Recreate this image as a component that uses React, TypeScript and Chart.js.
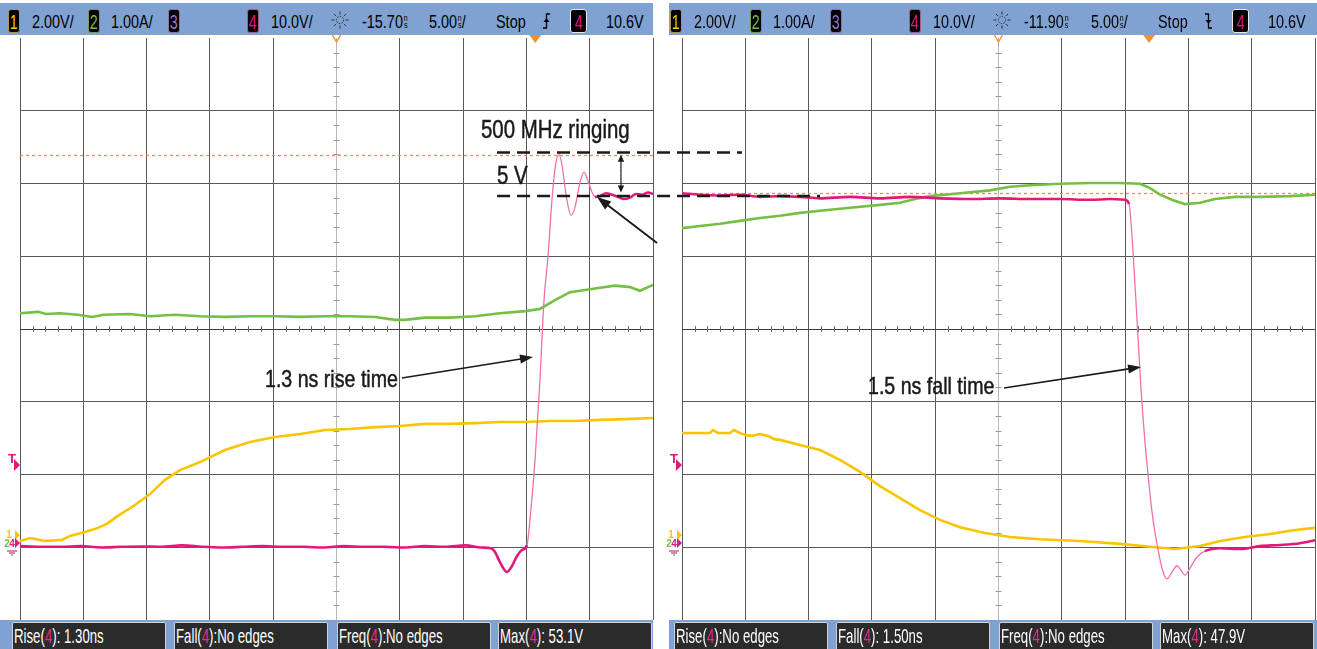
import React, { useEffect, useRef } from "react";
import { Chart, registerables } from "chart.js";

Chart.register(...registerables);

const W = 1317;
const H = 649;

// ---------- scope settings ----------
const CH1_V_PER_DIV = 2;
const CH2_A_PER_DIV = 1;
const CH4_V_PER_DIV = 10;
const NS_PER_DIV = 5;
const GROUND_DIV = -2.914; // ground level relative to screen centre (divisions)
const TRIG_LEVEL_V = 10.6;
const DELAY_NS = [-15.7, -11.9];
const MAX_V = [53.1, 47.9];
const EDGE_WINDOW_NS = [[-0.7, 4.75], [-1.7, 4.5]];

// ---------- left capture: rising edge ----------
const L_CH4_T = [-40.7, -39.1, -37.5, -35.9, -34.3, -32.7, -31.1, -29.5, -27.9, -26.3, -24.7, -23.1, -21.5, -19.9, -18.3, -16.7, -15.1, -13.5, -11.9, -10.3, -8.7, -7.1, -5.5, -4.3,
  -3.5, -3.18, -2.79, -2.23, -1.84, -1.44, -1.05, -0.65, -0.42, -0.02, 0.37, 0.69, 1.01, 1.32, 1.64, 1.87, 2.11, 2.43, 2.82, 3.14, 3.53, 3.85, 4.24, 4.72, 5.11, 5.59, 6.06, 6.54, 7.01, 7.48, 7.96, 8.43, 8.91, 9.3];
const L_CH4_V = [-0.7, -0.8, -0.8, -0.7, -0.9, -0.8, -0.75, -0.8, -0.6, -0.8, -0.9, -0.8, -0.7, -0.8, -0.8, -0.9, -0.7, -0.8, -0.8, -0.9, -0.7, -0.8, -0.6, -0.9,
  -1.0, -1.5, -2.9, -4.26, -3.44, -2.06, -1.24, -0.55, 2.9, 11.1, 22.1, 33.1, 39.2, 46.9, 52.1, 53.1, 51.7, 47.6, 44.8, 45.9, 49.3, 50.7, 49.1, 47.3, 47.4, 47.8, 47.6, 47.3, 47.0, 47.2, 47.7, 47.6, 47.9, 47.7];

const L_CH1_T = [-40.7, -39.91, -38.73, -37.38, -36.75, -35.57, -34.54, -33.75, -32.96, -31.62, -30.43, -29.25, -28.06, -26.48, -24.51, -22.53, -20.56, -18.58, -16.61, -14.63, -12.66, -10.68, -8.71, -6.73, -4.76, -2.79, -0.81, 1.16, 3.14, 5.11, 7.09, 9.3];
const L_CH1_V = [0.0, 0.08, 0.0, 0.03, 0.14, 0.25, 0.36, 0.49, 0.69, 0.99, 1.29, 1.68, 1.95, 2.17, 2.5, 2.72, 2.86, 2.94, 3.05, 3.08, 3.13, 3.16, 3.22, 3.22, 3.24, 3.27, 3.27, 3.3, 3.3, 3.33, 3.35, 3.38];

const L_CH2_T = [-40.7, -39.28, -38.65, -37.54, -36.12, -35.01, -34.07, -32.01, -30.43, -28.46, -26.48, -24.51, -22.53, -20.56, -18.58, -16.61, -14.63, -12.66, -11.08, -10.29, -8.71, -6.73, -4.76, -2.79, -0.81, 0.37, 1.56, 2.74, 3.93, 5.11, 6.3, 7.48, 8.27, 9.3];
const L_CH2_A = [3.13, 3.15, 3.12, 3.13, 3.11, 3.08, 3.11, 3.12, 3.09, 3.11, 3.09, 3.08, 3.09, 3.09, 3.08, 3.09, 3.09, 3.08, 3.04, 3.04, 3.07, 3.07, 3.09, 3.13, 3.16, 3.19, 3.31, 3.42, 3.45, 3.48, 3.51, 3.49, 3.44, 3.52];

// ---------- right capture: falling edge ----------
const R_CH4_T = [-36.9, -35.48, -33.9, -32.32, -30.74, -29.16, -27.58, -26.0, -23.63, -21.26, -18.89, -16.52, -14.15, -11.78, -9.41, -7.04, -4.67, -3.09, -1.91, -1.59, -1.28, -0.96, -0.64, -0.33, 0.0, 0.3, 0.7, 1.09, 1.41, 1.8, 2.2, 2.51, 2.83, 3.23, 3.78, 4.41, 5.6, 7.18, 8.76, 10.34, 11.92, 13.1];
const R_CH4_V = [47.8, 47.6, 47.5, 47.6, 47.3, 47.4, 47.3, 47.1, 47.3, 47.1, 47.3, 47.1, 47.0, 47.1, 47.0, 47.0, 46.9, 47.0, 46.9, 46.3, 40.0, 30.4, 20.8, 13.6, 7.6, 3.0, -1.2, -4.2, -5.2, -4.3, -3.4, -4.0, -4.7, -3.7, -2.2, -1.4, -1.0, -1.1, -0.7, -0.55, -0.3, 0.1];

const R_CH1_T = [-36.9, -34.69, -34.45, -34.06, -33.11, -32.79, -32.32, -31.84, -31.37, -30.74, -30.11, -29.63, -29.16, -27.58, -26.0, -24.42, -22.84, -21.26, -19.68, -18.1, -16.52, -14.94, -12.97, -10.99, -8.62, -5.46, -2.3, 0.07, 2.04, 4.02, 5.6, 7.57, 9.55, 11.52, 13.1];
const R_CH1_V = [2.97, 2.97, 3.05, 2.97, 2.97, 3.05, 2.97, 2.91, 2.89, 2.94, 2.89, 2.8, 2.78, 2.64, 2.5, 2.23, 1.9, 1.51, 1.18, 0.85, 0.58, 0.38, 0.22, 0.11, 0.05, 0.0, -0.08, -0.16, -0.22, -0.14, 0.0, 0.11, 0.19, 0.3, 0.36];

const R_CH2_T = [-36.9, -35.48, -33.9, -32.32, -30.74, -29.16, -27.58, -26.0, -23.63, -21.26, -19.68, -18.5, -17.31, -14.94, -12.57, -10.99, -9.41, -7.04, -4.67, -2.3, -0.72, 0.07, 0.86, 1.8, 2.83, 4.02, 5.2, 6.78, 8.76, 11.13, 13.1];
const R_CH2_A = [4.3, 4.33, 4.36, 4.4, 4.44, 4.47, 4.51, 4.54, 4.58, 4.62, 4.65, 4.7, 4.74, 4.78, 4.82, 4.87, 4.89, 4.91, 4.92, 4.92, 4.91, 4.85, 4.76, 4.69, 4.63, 4.65, 4.7, 4.73, 4.73, 4.74, 4.76];

// ---------- annotations (ns, ch4 volts) ----------
const RING_TEXT = "500 MHz ringing";
const RING_TEXT_AT = [-4.29, 55.4];
const STEP_TEXT = "5 V";
const STEP_TEXT_AT = [-3.02, 49.07];
const RING_TOP_LINE = [-3.02, 16.33, 53.4];
const RING_BASE_LINE = [-3.02, 22.49, 47.42];
const STEP_ARROW = [6.77, 53.1, 47.9];
const RING_ARROW = [9.62, 40.96, 4.88, 47.29];
const RISE_TEXT = "1.3 ns rise time";
const RISE_TEXT_AT = [-21.35, 21.17];
const RISE_ARROW = [-10.53, 22.41, -0.18, 25.29];
const FALL_TEXT = "1.5 ns fall time";
const FALL_TEXT_AT = [-22.21, 20.21];
const FALL_ARROW = [-11.47, 21.03, -0.64, 23.92];

// ---------- header / measurement texts ----------
const HDR_CH1 = "2.00V/";
const HDR_CH2 = "1.00A/";
const HDR_CH4 = "10.0V/";
const HDR_DELAY = ["-15.70", "-11.90"];
const HDR_TIMEBASE = "5.00";
const HDR_RUN = "Stop";
const HDR_TRIG = "10.6V";
const MEAS_NAMES = ["Rise", "Fall", "Freq", "Max"];
const MEAS_VALUES = [
  [" 1.30ns", "No edges", "No edges", " 53.1V"],
  ["No edges", " 1.50ns", "No edges", " 47.9V"],
];

// ---------- layout ----------
const PANEL_LEFT = [20, 682];
const PANEL_RIGHT = [653, 1315];
const PLOT_TOP = 38;
const PLOT_BOTTOM = 620;
const PANEL_OFFSET = [0, 662];
const BAR_X = [[0, 653], [669, 1317]];

const YELLOW = "#f8c500";
const GREEN = "#74bf44";
const PINK = "#e5177b";
const PINK_THIN = "#f070ad";
const ORANGE = "#f39030";
const BLUE = "#7fa2d3";
const SANS = "'Liberation Sans', Arial, sans-serif";

function pts(t: number[], v: number[]) {
  return t.map((x, i) => ({ x, y: v[i] }));
}

function drawArrow(ctx: CanvasRenderingContext2D, x1: number, y1: number, x2: number, y2: number, lw: number, head: number, hw: number) {
  const a = Math.atan2(y2 - y1, x2 - x1);
  const c = Math.cos(a), s = Math.sin(a);
  ctx.lineWidth = lw;
  ctx.setLineDash([]);
  ctx.beginPath();
  ctx.moveTo(x1, y1);
  ctx.lineTo(x2 - c * head * 0.7, y2 - s * head * 0.7);
  ctx.stroke();
  ctx.beginPath();
  ctx.moveTo(x2, y2);
  ctx.lineTo(x2 - c * head - s * hw, y2 - s * head + c * hw);
  ctx.lineTo(x2 - c * head + s * hw, y2 - s * head - c * hw);
  ctx.closePath();
  ctx.fill();
}

function narrowText(ctx: CanvasRenderingContext2D, s: string, x: number, y: number, size: number, sx: number) {
  ctx.save();
  ctx.translate(x, y);
  ctx.scale(sx, 1);
  ctx.font = `${size}px ${SANS}`;
  ctx.textAlign = "left";
  ctx.textBaseline = "alphabetic";
  ctx.lineWidth = 0.5;
  ctx.fillText(s, 0, 0);
  ctx.strokeText(s, 0, 0);
  ctx.restore();
}

function decorPlugin(p: number) {
  return {
    id: "scopeDecor" + p,
    beforeDatasetsDraw(chart: any) {
      const ctx: CanvasRenderingContext2D = chart.ctx;
      const { left, right, top, bottom } = chart.chartArea;
      const xs = chart.scales.x;
      const y4 = chart.scales.y4;
      ctx.save();
      // minor ticks on centre lines
      const cx = xs.getPixelForValue(DELAY_NS[p]);
      const cy = y4.getPixelForValue(-GROUND_DIV * CH4_V_PER_DIV);
      ctx.lineWidth = 1;
      ctx.strokeStyle = "#6a6a6a";
      const dxm = (right - left) / 50;
      for (let k = 1; k < 50; k++) {
        if (k % 5 === 0) continue;
        const x = Math.round(left + k * dxm) + 0.5;
        ctx.beginPath();
        ctx.moveTo(x, cy - 3);
        ctx.lineTo(x, cy + 3);
        ctx.stroke();
      }
      ctx.strokeStyle = "#9a9a9a";
      const dym = (bottom - top) / 40;
      for (let k = 1; k < 40; k++) {
        if (k % 5 === 0) continue;
        const y = Math.round(top + k * dym) + 0.5;
        ctx.beginPath();
        ctx.moveTo(cx - 3, y);
        ctx.lineTo(cx + 3, y);
        ctx.stroke();
      }
      // max measurement marker
      const ym = Math.round(y4.getPixelForValue(MAX_V[p])) + 0.5;
      ctx.strokeStyle = ORANGE;
      ctx.lineWidth = 1.3;
      ctx.setLineDash([3, 3]);
      ctx.beginPath();
      ctx.moveTo(left, ym);
      ctx.lineTo(right, ym);
      ctx.stroke();
      ctx.restore();
    },
    afterDraw(chart: any) {
      const ctx: CanvasRenderingContext2D = chart.ctx;
      const { left, top } = chart.chartArea;
      const xs = chart.scales.x;
      const y4 = chart.scales.y4;
      const X = (v: number) => xs.getPixelForValue(v);
      const Y = (v: number) => y4.getPixelForValue(v);
      ctx.save();
      // trigger position marker
      const xt = X(0);
      ctx.fillStyle = ORANGE;
      ctx.beginPath();
      ctx.moveTo(xt - 6, top - 3);
      ctx.lineTo(xt + 6, top - 3);
      ctx.lineTo(xt, top + 5);
      ctx.closePath();
      ctx.fill();
      // delay reference marker
      const xc = X(DELAY_NS[p]);
      ctx.strokeStyle = ORANGE;
      ctx.lineWidth = 1.4;
      ctx.beginPath();
      ctx.moveTo(xc - 4, top - 3);
      ctx.lineTo(xc, top + 4);
      ctx.lineTo(xc + 4, top - 3);
      ctx.stroke();
      // trigger level "T"
      const yT = Y(TRIG_LEVEL_V);
      ctx.fillStyle = PINK;
      ctx.font = `bold 13px ${SANS}`;
      ctx.textAlign = "center";
      ctx.textBaseline = "alphabetic";
      ctx.fillText("T", left - 8, yT - 1);
      ctx.beginPath();
      ctx.moveTo(left - 6, yT - 5);
      ctx.lineTo(left, yT + 1);
      ctx.lineTo(left - 6, yT + 7);
      ctx.closePath();
      ctx.fill();
      // ground markers
      const yg = Y(0);
      ctx.font = `bold 10px ${SANS}`;
      ctx.fillStyle = YELLOW;
      ctx.fillText("1", left - 11, yg - 3);
      ctx.beginPath();
      ctx.moveTo(left - 5, yg - 11);
      ctx.lineTo(left, yg - 6);
      ctx.lineTo(left - 5, yg - 1);
      ctx.closePath();
      ctx.fill();
      ctx.fillStyle = GREEN;
      ctx.fillText("2", left - 13, yg + 6);
      ctx.fillStyle = PINK;
      ctx.fillText("4", left - 8, yg + 6);
      ctx.beginPath();
      ctx.moveTo(left - 5, yg - 3);
      ctx.lineTo(left, yg + 2);
      ctx.lineTo(left - 5, yg + 7);
      ctx.closePath();
      ctx.fill();
      ctx.strokeStyle = "#b0406e";
      ctx.lineWidth = 1.2;
      [[10, 5], [12, 3], [14, 1]].forEach(([dy, hw]) => {
        ctx.beginPath();
        ctx.moveTo(left - 8 - hw, yg + dy);
        ctx.lineTo(left - 8 + hw, yg + dy);
        ctx.stroke();
      });

      // annotations
      ctx.fillStyle = "#1a1a1a";
      ctx.strokeStyle = "#1a1a1a";
      if (p === 0) {
        narrowText(ctx, RING_TEXT, X(RING_TEXT_AT[0]), Y(RING_TEXT_AT[1]), 25, 0.817);
        narrowText(ctx, STEP_TEXT, X(STEP_TEXT_AT[0]), Y(STEP_TEXT_AT[1]), 25, 0.817);
        narrowText(ctx, RISE_TEXT, X(RISE_TEXT_AT[0]), Y(RISE_TEXT_AT[1]), 24, 0.817);
        ctx.lineWidth = 2.6;
        ctx.setLineDash([13, 7]);
        [RING_TOP_LINE, RING_BASE_LINE].forEach((l) => {
          const y = Y(l[2]);
          ctx.beginPath();
          ctx.moveTo(X(l[0]), y);
          ctx.lineTo(X(l[1]), y);
          ctx.stroke();
        });
        ctx.setLineDash([]);
        const xa = X(STEP_ARROW[0]);
        const ya = Y(STEP_ARROW[1]);
        const yb = Y(STEP_ARROW[2]);
        const ym = (ya + yb) / 2;
        drawArrow(ctx, xa, ym, xa, ya, 1.2, 7, 3.2);
        drawArrow(ctx, xa, ym, xa, yb, 1.2, 7, 3.2);
        drawArrow(ctx, X(RING_ARROW[0]), Y(RING_ARROW[1]), X(RING_ARROW[2]), Y(RING_ARROW[3]), 1.9, 14, 5);
        drawArrow(ctx, X(RISE_ARROW[0]), Y(RISE_ARROW[1]), X(RISE_ARROW[2]), Y(RISE_ARROW[3]), 1.6, 13, 4.5);
      } else {
        narrowText(ctx, FALL_TEXT, X(FALL_TEXT_AT[0]), Y(FALL_TEXT_AT[1]), 24, 0.817);
        drawArrow(ctx, X(FALL_ARROW[0]), Y(FALL_ARROW[1]), X(FALL_ARROW[2]), Y(FALL_ARROW[3]), 1.6, 13, 4.5);
      }
      ctx.restore();
    },
  };
}

function buildChart(canvas: HTMLCanvasElement, p: number) {
  const delay = DELAY_NS[p];
  const xmin = delay - 5 * NS_PER_DIV;
  const xmax = delay + 5 * NS_PER_DIV;
  const rng = (perDiv: number) => ({ min: (-4 - GROUND_DIV) * perDiv, max: (4 - GROUND_DIV) * perDiv });
  const t4 = p === 0 ? L_CH4_T : R_CH4_T;
  const v4 = p === 0 ? L_CH4_V : R_CH4_V;
  const t1 = p === 0 ? L_CH1_T : R_CH1_T;
  const v1 = p === 0 ? L_CH1_V : R_CH1_V;
  const t2 = p === 0 ? L_CH2_T : R_CH2_T;
  const a2 = p === 0 ? L_CH2_A : R_CH2_A;
  const win = EDGE_WINDOW_NS[p];
  const onEdge = (c: any) => t4[c.p0DataIndex] >= win[0] && t4[c.p1DataIndex] <= win[1];
  const y4r = rng(CH4_V_PER_DIV);

  return new Chart(canvas, {
    type: "line",
    data: {
      datasets: [
        {
          data: pts(t4, v4),
          yAxisID: "y4",
          borderColor: PINK,
          borderWidth: 2.6,
          pointRadius: 0,
          cubicInterpolationMode: "monotone",
          segment: {
            borderColor: (c: any) => (onEdge(c) ? PINK_THIN : undefined),
            borderWidth: (c: any) => (onEdge(c) ? 1.3 : undefined),
          },
        } as any,
        { data: pts(t2, a2), yAxisID: "y2", borderColor: GREEN, borderWidth: 2.6, pointRadius: 0, tension: 0 },
        { data: pts(t1, v1), yAxisID: "y1", borderColor: YELLOW, borderWidth: 2.6, pointRadius: 0, tension: 0 },
      ],
    },
    options: {
      responsive: false,
      maintainAspectRatio: false,
      animation: false,
      events: [],
      layout: {
        padding: { left: PANEL_LEFT[p], right: W - PANEL_RIGHT[p], top: PLOT_TOP, bottom: H - PLOT_BOTTOM },
      },
      plugins: { legend: { display: false }, tooltip: { enabled: false } },
      scales: {
        x: {
          type: "linear",
          min: xmin,
          max: xmax,
          afterBuildTicks: (s: any) => {
            s.ticks = Array.from({ length: 11 }, (_, k) => ({ value: xmin + k * NS_PER_DIV }));
          },
          ticks: { display: false },
          grid: { drawTicks: false, lineWidth: 1, color: (c: any) => (c.index === 5 ? "#b8b8b8" : "#5a5a5a") },
          border: { display: false },
        },
        y4: {
          type: "linear",
          position: "left",
          min: y4r.min,
          max: y4r.max,
          afterBuildTicks: (s: any) => {
            s.ticks = Array.from({ length: 9 }, (_, k) => ({ value: y4r.min + k * CH4_V_PER_DIV }));
          },
          ticks: { display: false },
          grid: {
            drawTicks: false,
            lineWidth: 1,
            color: (c: any) => (c.index === 0 || c.index === 8 ? "rgba(0,0,0,0)" : c.index === 4 ? "#3e3e3e" : "#5a5a5a"),
          },
          border: { display: false },
        },
        y1: { type: "linear", display: false, ...rng(CH1_V_PER_DIV) },
        y2: { type: "linear", display: false, ...rng(CH2_A_PER_DIV) },
      },
    } as any,
    plugins: [decorPlugin(p)],
  });
}

function Txt({ x, top = 13, size = 18.5, sx = 0.78, color = "#000", children }: any) {
  return (
    <span
      style={{
        position: "absolute",
        left: x,
        top,
        fontSize: size,
        lineHeight: `${size}px`,
        color,
        whiteSpace: "nowrap",
        transform: `scaleX(${sx})`,
        transformOrigin: "left top",
        fontFamily: SANS,
      }}
    >
      {children}
    </span>
  );
}

function NsUnit() {
  return (
    <span
      style={{
        display: "inline-flex",
        flexDirection: "column",
        fontSize: 9,
        lineHeight: "7px",
        verticalAlign: "top",
        marginTop: 2,
        marginLeft: 1,
        alignItems: "center",
      }}
    >
      <span>n</span>
      <span>s</span>
    </span>
  );
}

function Badge({ x, w = 12, ch, color, border }: any) {
  return (
    <div
      style={{
        position: "absolute",
        left: x,
        top: 9,
        width: w,
        height: 24,
        boxSizing: "border-box",
        background: "#000",
        border: `1.5px solid ${border}`,
        borderRadius: 3,
        display: "flex",
        alignItems: "center",
        justifyContent: "center",
        overflow: "hidden",
      }}
    >
      <span style={{ color, fontSize: 21, lineHeight: "21px", fontFamily: SANS, transform: "scaleX(0.68)" }}>{ch}</span>
    </div>
  );
}

function SunIcon({ x }: any) {
  const rays = Array.from({ length: 8 }, (_, k) => (k * Math.PI) / 4);
  return (
    <svg style={{ position: "absolute", left: x, top: 9 }} width={20} height={22} viewBox="0 0 20 22">
      <circle cx={10} cy={11} r={3.6} fill="none" stroke="#333" strokeWidth={1} strokeDasharray="1.5 1.2" />
      {rays.map((a, i) => (
        <line
          key={i}
          x1={10 + Math.cos(a) * 5.5}
          y1={11 + Math.sin(a) * 5.5}
          x2={10 + Math.cos(a) * 8.5}
          y2={11 + Math.sin(a) * 8.5}
          stroke="#333"
          strokeWidth={1}
        />
      ))}
    </svg>
  );
}

function EdgeIcon({ x, rising }: any) {
  return (
    <svg style={{ position: "absolute", left: x, top: 11 }} width={10} height={20} viewBox="0 0 10 20">
      <path d={rising ? "M1 17 H4.5 V3 H8" : "M1 3 H4.5 V17 H8"} fill="none" stroke="#000" strokeWidth={1.3} />
      <path d={rising ? "M1.5 11 L4.5 7 L7.5 11 Z" : "M1.5 9 L4.5 13 L7.5 9 Z"} fill="#000" />
    </svg>
  );
}

function TopBar({ p }: any) {
  const o = PANEL_OFFSET[p];
  const [bx0, bx1] = BAR_X[p];
  return (
    <>
      <div style={{ position: "absolute", left: bx0, top: 3, width: bx1 - bx0, height: 32, background: BLUE }} />
      <Badge x={o + 8} ch="1" color={YELLOW} border="#a89a55" />
      <Txt x={o + 32}>{HDR_CH1}</Txt>
      <Badge x={o + 88} ch="2" color={GREEN} border="#7d9a5a" />
      <Txt x={o + 111}>{HDR_CH2}</Txt>
      <Badge x={o + 168} ch="3" color="#9b6fd6" border="#8a7a9a" />
      <Badge x={o + 247} ch="4" color={PINK} border="#a06080" />
      <Txt x={o + 271}>{HDR_CH4}</Txt>
      <SunIcon x={o + 330} />
      <Txt x={o + 362}>
        {HDR_DELAY[p]}
        <NsUnit />
      </Txt>
      <Txt x={o + 429}>
        {HDR_TIMEBASE}
        <NsUnit />/
      </Txt>
      <Txt x={o + 496}>{HDR_RUN}</Txt>
      <EdgeIcon x={o + 542} rising={p === 0} />
      <Badge x={o + 570} w={17} ch="4" color={PINK} border="#e8e8e8" />
      <Txt x={o + 606}>{HDR_TRIG}</Txt>
    </>
  );
}

const MEAS_BOX_X = [12, 174, 337, 498];

function BottomBar({ p }: any) {
  const o = PANEL_OFFSET[p];
  const [bx0, bx1] = BAR_X[p];
  return (
    <>
      <div style={{ position: "absolute", left: bx0, top: 620, width: bx1 - bx0, height: 29, background: BLUE }} />
      {MEAS_NAMES.map((name, i) => (
        <div
          key={i}
          style={{
            position: "absolute",
            left: o + MEAS_BOX_X[i],
            top: 622,
            width: 154,
            height: 29,
            boxSizing: "border-box",
            background: "#2b2b2b",
            border: "1px solid #d2d2d2",
            borderRadius: 2,
            overflow: "hidden",
          }}
        >
          <Txt x={1} top={2} size={21} sx={0.63} color="#ffffff">
            {name}(<span style={{ color: "#ee2a8c" }}>4</span>):{MEAS_VALUES[p][i]}
          </Txt>
        </div>
      ))}
    </>
  );
}

export default function App() {
  const leftRef = useRef<HTMLCanvasElement>(null);
  const rightRef = useRef<HTMLCanvasElement>(null);

  useEffect(() => {
    document.body.style.margin = "0";
    const r = buildChart(rightRef.current as HTMLCanvasElement, 1);
    const l = buildChart(leftRef.current as HTMLCanvasElement, 0);
    return () => {
      l.destroy();
      r.destroy();
    };
  }, []);

  return (
    <div style={{ position: "relative", width: W, height: H, background: "#fff", overflow: "hidden", fontFamily: SANS }}>
      <canvas ref={rightRef} width={W} height={H} style={{ position: "absolute", left: 0, top: 0 }} />
      <canvas ref={leftRef} width={W} height={H} style={{ position: "absolute", left: 0, top: 0 }} />
      <TopBar p={0} />
      <TopBar p={1} />
      <BottomBar p={0} />
      <BottomBar p={1} />
    </div>
  );
}
